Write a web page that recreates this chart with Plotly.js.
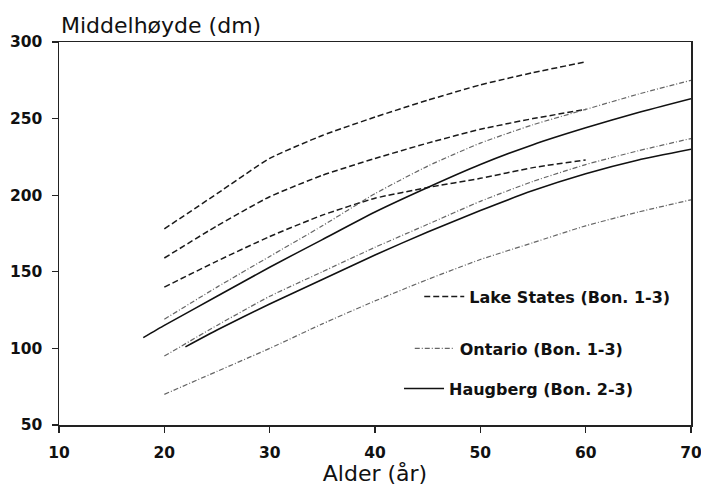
<!DOCTYPE html>
<html>
<head>
<meta charset="utf-8">
<script src="https://cdn.plot.ly/plotly-3.0.1.min.js"></script>
<style>html,body{margin:0;padding:0;background:#fff;}#chart{width:701px;height:486px;}</style>
</head>
<body>
<div id="chart"></div>
<script>
// Lake States (Bon. 1-3)
const lsAges = [20, 25, 30, 35, 40, 45, 50, 55, 60];
const ls1 = [178, 201, 224, 239, 251, 262, 272, 280, 287];
const ls2 = [159, 180, 199, 213, 224, 234, 243, 250, 256];
const ls3 = [140, 157, 173, 187, 198, 205, 211, 218, 223];
// Ontario (Bon. 1-3)
const onAges = [20, 25, 30, 35, 40, 45, 50, 55, 60, 65, 70];
const on1 = [119, 140, 160, 180, 201, 219, 234, 246, 256, 266, 275];
const on2 = [95, 115, 134, 150, 166, 181, 196, 209, 220, 229, 237];
const on3 = [70, 85, 100, 116, 131, 145, 158, 169, 180, 189, 197];
// Haugberg (Bon. 2-3)
const hgAges1 = [18, 20, 25, 30, 35, 40, 45, 50, 55, 60, 65, 70];
const hg1 = [107, 115, 134, 153, 171, 189, 205, 220, 233, 244, 254, 263];
const hgAges2 = [22, 25, 30, 35, 40, 45, 50, 55, 60, 65, 70];
const hg2 = [101, 112, 129, 145, 161, 176, 190, 203, 214, 223, 230];

const xTicks = [10, 20, 30, 40, 50, 60, 70];
const yTicks = [50, 100, 150, 200, 250, 300];

const names = {
  ls: 'Lake States (Bon. 1-3)',
  on: 'Ontario (Bon. 1-3)',
  hg: 'Haugberg (Bon. 2-3)'
};

const lsLine = {color: '#1a1a1a', width: 1.5, dash: '6px,3px', shape: 'spline', smoothing: 0.5};
const onLine = {color: '#666', width: 1.2, dash: '5px,2px,1px,2px', shape: 'spline', smoothing: 0.5};
const hgLine = {color: '#111', width: 1.6, dash: 'solid', shape: 'spline', smoothing: 0.5};

function tr(x, y, line, name, show, legend) {
  return {x: x, y: y, type: 'scatter', mode: 'lines', line: line, name: name,
          showlegend: show, legend: legend, hoverinfo: 'skip'};
}

const data = [
  tr(lsAges, ls1, lsLine, names.ls, true, 'legend'),
  tr(lsAges, ls2, lsLine, names.ls, false, 'legend'),
  tr(lsAges, ls3, lsLine, names.ls, false, 'legend'),
  tr(onAges, on1, onLine, names.on, true, 'legend2'),
  tr(onAges, on2, onLine, names.on, false, 'legend2'),
  tr(onAges, on3, onLine, names.on, false, 'legend2'),
  tr(hgAges1, hg1, hgLine, names.hg, true, 'legend3'),
  tr(hgAges2, hg2, hgLine, names.hg, false, 'legend3')
];

const tickFont = {family: 'DejaVu Sans', size: 15.5, color: '#111', weight: 'bold'};
const legFont = {family: 'DejaVu Sans', size: 16, color: '#111', weight: 'bold'};

function leg(x, y) {
  return {x: x, y: y, xanchor: 'left', yanchor: 'middle', xref: 'paper', yref: 'paper',
          bgcolor: 'rgba(0,0,0,0)', borderwidth: 0, font: legFont, itemwidth: 40};
}

const layout = {
  width: 701, height: 486,
  margin: {l: 59, r: 10, t: 42, b: 61},
  paper_bgcolor: '#fff', plot_bgcolor: '#fff',
  showlegend: true,
  title: {text: 'Middelhøyde (dm)', font: {family: 'DejaVu Sans', size: 22, color: '#111'},
          xref: 'container', x: 61 / 701, xanchor: 'left',
          yref: 'container', y: 1 - 25 / 486, yanchor: 'middle'},
  xaxis: {range: [10, 70], tickvals: xTicks, ticktext: xTicks.map(String),
          ticks: 'outside', ticklen: 6, tickwidth: 1.3, tickcolor: '#222',
          showline: true, linecolor: '#222', linewidth: 1.5, mirror: true,
          showgrid: false, zeroline: false, tickfont: tickFont, ticklabelstandoff: 7,
          ticklabeloverflow: 'allow',
          title: {text: 'Alder (år)', font: {family: 'DejaVu Sans', size: 22, color: '#111'}, standoff: 6}},
  yaxis: {range: [50, 300], tickvals: yTicks, ticktext: yTicks.map(String),
          ticks: 'outside', ticklen: 6, tickwidth: 1.3, tickcolor: '#222',
          showline: true, linecolor: '#222', linewidth: 1.5, mirror: true,
          showgrid: false, zeroline: false, tickfont: tickFont, ticklabelstandoff: 6},
  legend: leg(0.57, 0.335),
  legend2: leg(0.555, 0.2),
  legend3: leg(0.538, 0.095)
};

Plotly.newPlot('chart', data, layout, {staticPlot: true, displayModeBar: false});
</script>
</body>
</html>
